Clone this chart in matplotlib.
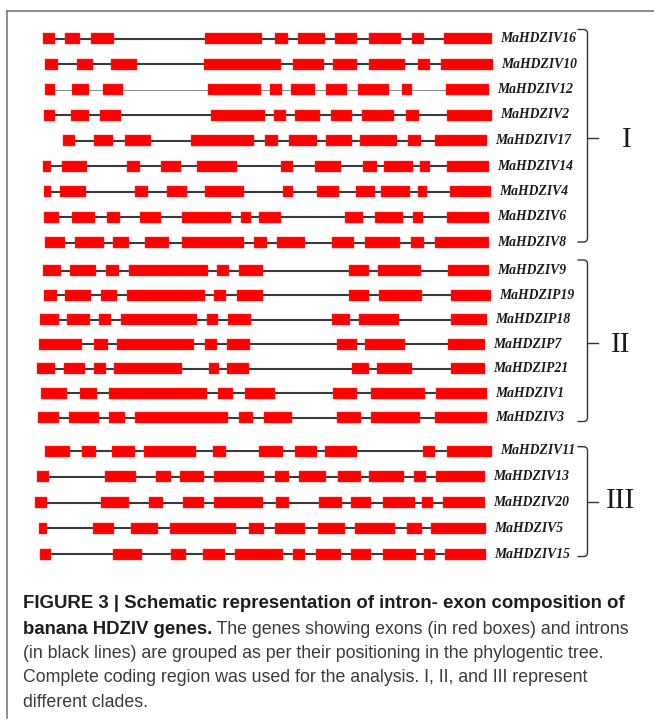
import matplotlib
matplotlib.use("Agg")
import matplotlib.pyplot as plt
from matplotlib.path import Path
from matplotlib.patches import PathPatch, Rectangle

# ---------------- data (exon start/end positions on a common scale) ----------------
group1_names = ["MaHDZIV16", "MaHDZIV10", "MaHDZIV12", "MaHDZIV2", "MaHDZIV17",
                "MaHDZIV14", "MaHDZIV4", "MaHDZIV6", "MaHDZIV8"]
group1_exons = [
    [(42.7, 54.7), (65.3, 80), (90.7, 114), (205.3, 262), (274.7, 288), (298, 324.7), (334.7, 356.7), (368.7, 400.7), (412, 424), (444, 492)],
    [(45, 58), (76.7, 92.7), (110.7, 136.7), (204, 280.7), (293.3, 324), (332.7, 356.7), (368.7, 405.3), (418, 430), (440.7, 492.7)],
    [(44.7, 55.3), (72, 88.7), (102.7, 123.3), (208, 261.3), (270, 282), (291.3, 315.3), (326, 346.7), (358, 389.3), (402, 412), (446, 489.3)],
    [(44, 55.3), (70.7, 88.7), (100, 120.7), (211.3, 265.3), (274, 286), (295.3, 320), (330.7, 352), (362, 394), (406, 419.3), (447.3, 492)],
    [(62.7, 75.3), (94, 113.3), (125.3, 150.7), (191.3, 254), (264.7, 278), (288.7, 316.7), (326, 352), (360, 397.3), (408, 421.3), (435.3, 487.3)],
    [(42.7, 51.3), (62, 87.3), (127.3, 140), (160.7, 181.3), (197.3, 237.3), (281.3, 292.7), (314.7, 341.3), (362.7, 377.3), (384, 413.3), (420, 430), (447.3, 489.3)],
    [(44, 51.3), (60, 86), (134.7, 148), (166.7, 187.3), (204.7, 244), (282.7, 293.3), (316.7, 338.7), (356, 374.7), (381.3, 410), (418, 427.3), (450, 490.7)],
    [(44, 58.7), (72, 95.3), (106.7, 120), (140, 160.7), (182, 231.3), (240.7, 251.3), (258.7, 281.3), (344.7, 362.7), (374.7, 403.3), (412.7, 422.7), (446.7, 489.3)],
    [(45.3, 64.7), (75.3, 104), (113.3, 129.3), (144.7, 169.3), (182, 244), (254, 267.3), (277.3, 305.3), (332, 354), (364.7, 400), (410.7, 424), (435.3, 488.7)],
]

group2_names = ["MaHDZIV9", "MaHDZIP19", "MaHDZIP18", "MaHDZIP7", "MaHDZIP21",
                "MaHDZIV1", "MaHDZIV3"]
group2_exons = [
    [(42.7, 61.3), (70, 96), (106, 119.3), (129.3, 208), (217.3, 229.3), (238.7, 263.3), (348.7, 369.3), (378, 420.7), (448, 488.7)],
    [(44, 56.7), (65.3, 90.7), (100.7, 116.7), (126.7, 205.3), (214, 226), (237.3, 262.7), (349.3, 369.3), (379.3, 422), (450.7, 490.7)],
    [(40, 58.7), (66.7, 90), (98.7, 111.3), (121.3, 197.3), (206.7, 218), (228, 251.3), (332, 350), (359.3, 399.3), (451.3, 487.3)],
    [(38.7, 82), (94, 108), (117.3, 194), (205.3, 216.7), (226.7, 250), (337.3, 356.7), (364.7, 405.3), (448, 484.7)],
    [(37.3, 54.7), (64, 84.7), (94, 106), (114, 182), (208.7, 218.7), (227.3, 248.7), (352, 369.3), (376.7, 412), (450.7, 485.3)],
    [(40.7, 67.3), (80, 97.3), (109.3, 206.7), (218, 233.3), (245.3, 275.3), (332.7, 357.3), (370.7, 424.7), (436, 486.7)],
    [(38, 58.7), (69.3, 98.7), (108.7, 124.7), (135.3, 228), (239.3, 253.3), (264, 292), (336.7, 360.7), (370.7, 420), (434.7, 486.7)],
]

group3_names = ["MaHDZIV11", "MaHDZIV13", "MaHDZIV20", "MaHDZIV5", "MaHDZIV15"]
group3_exons = [
    [(44.7, 70), (82, 96), (112, 135.3), (144, 196), (212.7, 226), (259.3, 283.3), (294.7, 316.7), (325.3, 357.3), (422.7, 435.3), (447.3, 492)],
    [(37.3, 48.7), (105.3, 136), (156, 171.3), (180, 204), (214, 264), (275.3, 288.7), (299.3, 326), (338, 360.7), (369.3, 404), (414, 426), (436, 484.7)],
    [(34.7, 46.7), (101.3, 128.7), (149.3, 162.7), (182.7, 204), (214, 263.3), (276, 288.7), (319.3, 342), (350.7, 370.7), (383.3, 414.7), (422, 433.3), (442.7, 484.7)],
    [(39.3, 46.7), (92.7, 114), (130.7, 158), (170, 236), (248.7, 264), (275.3, 305.3), (318, 344.7), (354.7, 395.3), (407.3, 422), (431.3, 486)],
    [(40, 50.7), (112.7, 142), (171.3, 186), (202.7, 224.7), (235.3, 282.7), (292.7, 305.3), (316, 340.7), (351.3, 371.3), (382.7, 416), (424, 435.3), (445.3, 486)],
]

clade_labels = ["I", "II", "III"]

caption_bold_1 = "FIGURE 3 | Schematic representation of intron- exon composition of"
caption_bold_2 = "banana HDZIV genes."
caption_rest_2 = " The genes showing exons (in red boxes) and introns"
caption_lines = [
    "(in black lines) are grouped as per their positioning in the phylogentic tree.",
    "Complete coding region was used for the analysis. I, II, and III represent",
    "different clades.",
]

# ---------------- layout ----------------
W, H = 654, 721
fig = plt.figure(figsize=(W / 100, H / 100), dpi=100)
ax = fig.add_axes([0, 0, 1, 1])
ax.set_xlim(0, W)
ax.set_ylim(H, 0)
ax.axis("off")

groups = [
    dict(names=group1_names, exons=group1_exons, y0=38.5, dy=25.5,
         top=29.5, bot=242.0, mid=137.5, lx=627, ly=140),
    dict(names=group2_names, exons=group2_exons, y0=270.7, dy=24.5,
         top=260.0, bot=421.5, mid=343.3, lx=621, ly=345),
    dict(names=group3_names, exons=group3_exons, y0=451.0, dy=25.8,
         top=446.7, bot=556.5, mid=501.7, lx=621, ly=501),
]

EXON_H = 11
RED = "#ff0000"

for gi, g in enumerate(groups):
    for i, (name, exons) in enumerate(zip(g["names"], g["exons"])):
        y = g["y0"] + i * g["dy"]
        start = exons[0][0]
        end = exons[-1][1]
        thin = (name == "MaHDZIV12")
        ax.plot([start, end], [y, y], color="#8a8a8a" if thin else "#3a3a3a",
                lw=0.7 if thin else 1.5, solid_capstyle="butt", zorder=1)
        for (a, b) in exons:
            ax.add_patch(Rectangle((a, y - EXON_H / 2), b - a, EXON_H,
                                   facecolor=RED, edgecolor="#ff3030", lw=0.3, zorder=2))
        ax.text(end + 8, y, name, fontfamily="Liberation Serif", fontstyle="italic",
                fontweight="bold", fontsize=9.8, color="#1a1a1a",
                ha="left", va="center", zorder=3)

    # bracket
    xr = 587.5
    xl = 577.5
    r = 4.0
    verts = [(xl, g["top"]), (xr - r, g["top"]), (xr, g["top"]), (xr, g["top"] + r),
             (xr, g["bot"] - r), (xr, g["bot"]), (xr - r, g["bot"]), (xl, g["bot"])]
    codes = [Path.MOVETO, Path.LINETO, Path.CURVE3, Path.CURVE3,
             Path.LINETO, Path.CURVE3, Path.CURVE3, Path.LINETO]
    ax.add_patch(PathPatch(Path(verts, codes), facecolor="none", edgecolor="#333333", lw=1.0))
    ax.plot([xr, xr + 10], [g["mid"], g["mid"]], color="#333333", lw=1.0)
    ax.text(g["lx"], g["ly"], clade_labels[gi], fontfamily="Liberation Serif",
            fontsize=21, color="#1a1a1a", ha="center", va="center")

# frame lines (top and left)
ax.plot([7.3, W], [10.7, 10.7], color="#7a7a7a", lw=1.2)
ax.plot([7.3, 7.3], [10.7, 718], color="#7a7a7a", lw=1.2)

# ---------------- caption ----------------
renderer = fig.canvas.get_renderer()
CAP_FONT = ["Liberation Sans", "DejaVu Sans"]
x0 = 22.7


def fit_size(text, weight, target):
    t = ax.text(0, 0, text, fontfamily=CAP_FONT, fontweight=weight, fontsize=10)
    w = t.get_window_extent(renderer).width
    t.remove()
    return 10 * target / w


fs_b = fit_size(caption_bold_1, "bold", 601)
fs_r = fit_size(caption_lines[1], "normal", 568)

baselines = [608.5, 633.5, 658.5, 682.0, 707.0]
ax.text(x0, baselines[0], caption_bold_1, fontfamily=CAP_FONT, fontweight="bold",
        fontsize=fs_b, color="#1e1c1d", va="baseline", ha="left")
tb = ax.text(x0, baselines[1], caption_bold_2, fontfamily=CAP_FONT, fontweight="bold",
             fontsize=fs_b, color="#1e1c1d", va="baseline", ha="left")
bb = tb.get_window_extent(renderer)
x_after = ax.transData.inverted().transform((bb.x1, bb.y0))[0]
ax.text(x_after, baselines[1], caption_rest_2, fontfamily=CAP_FONT,
        fontsize=fs_r, color="#3a3a3a", va="baseline", ha="left")
for k, line in enumerate(caption_lines):
    ax.text(x0, baselines[2 + k], line, fontfamily=CAP_FONT, fontsize=fs_r,
            color="#3a3a3a", va="baseline", ha="left")

fig.savefig("out.png", dpi=100)
